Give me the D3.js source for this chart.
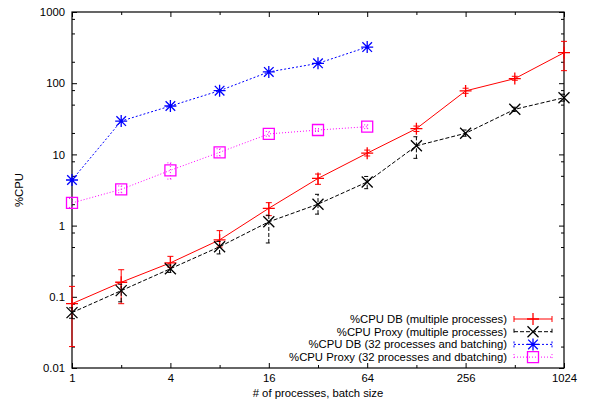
<!DOCTYPE html>
<html>
<head>
<meta charset="utf-8">
<script src="https://cdn.jsdelivr.net/npm/d3@7"></script>
<style>
  body { margin: 0; background: #fff; }
  svg text { font-family: "Liberation Sans", Arial, sans-serif; font-size: 11.3px; fill: #000; }
</style>
</head>
<body>
<div id="chart"></div>
<script>
// x positions (processes / batch size)
var xMulti = [1, 2, 4, 8, 16, 32, 64, 128, 256, 512, 1024];
var xBatch = [1, 2, 4, 8, 16, 32, 64];

// %CPU DB (multiple processes)
var dbMulti   = [0.08, 0.16, 0.30, 0.63, 1.75, 4.6, 10.4, 23, 78, 116, 268];
var dbMultiLo = [0.02, 0.08, 0.26, 0.50, 1.38, 3.8, 9.5, 21, 72, 110, 150];
var dbMultiHi = [0.14, 0.24, 0.37, 0.85, 2.1, 5.3, 11.5, 25, 85, 125, 387];

// %CPU Proxy (multiple processes)
var pxMulti   = [0.06, 0.122, 0.248, 0.505, 1.13, 2.0, 4.1, 13.2, 19.8, 43, 62.5];
var pxMultiLo = [0.05, 0.085, 0.22, 0.40, 0.57, 1.45, 3.3, 8.8, 18, 40, 56];
var pxMultiHi = [0.07, 0.15, 0.28, 0.60, 1.4, 2.75, 4.9, 17.7, 22, 46, 70];

// %CPU DB (32 processes and batching)
var dbBatch   = [4.37, 29.4, 47.8, 78.5, 144, 190, 322];

// %CPU Proxy (32 processes and dbatching)
var pxBatch   = [2.08, 3.23, 5.98, 10.7, 19.4, 22, 24.5];
var pxBatchLo = [1.8, 2.9, 4.5, 9.5, 18, 21, 23];
var pxBatchHi = [2.4, 3.6, 7.6, 12, 21, 23, 26];

var xTicks = [1, 4, 16, 64, 256, 1024];
var xMinor = [2, 8, 32, 128, 512];
var yTicks = [0.01, 0.1, 1, 10, 100, 1000];
var yMinorMult = [2, 5, 8];

var W = 591, H = 405;
var margin = {left: 72, top: 12, right: 27, bottom: 37};

var x = d3.scaleLog().base(2).domain([1, 1024]).range([margin.left, W - margin.right]);
var y = d3.scaleLog().domain([0.01, 1000]).range([H - margin.bottom, margin.top]);

var svg = d3.select("#chart").append("svg").attr("width", W).attr("height", H);

var yMinor = [];
yTicks.slice(0, -1).forEach(function (t) {
    yMinorMult.forEach(function (m) { yMinor.push(t * m); });
});
yMinor = yMinor.filter(function (v) { return v > 0.01 && v < 1000; });

var fmtY = function (d) { return d >= 1 ? d3.format("d")(d) : String(d); };

// axes, ticks pointing inward like gnuplot
var pBottom = y.range()[0], pTop = y.range()[1], pLeft = x.range()[0], pRight = x.range()[1];

svg.append("g").attr("transform", "translate(0," + pBottom + ")")
    .call(d3.axisBottom(x).tickValues(xTicks).tickFormat(d3.format("d")).tickSizeInner(-5).tickSizeOuter(0).tickPadding(6));
svg.append("g").attr("transform", "translate(0," + pBottom + ")")
    .call(d3.axisBottom(x).tickValues(xMinor).tickFormat("").tickSizeInner(-3).tickSizeOuter(0));
svg.append("g").attr("transform", "translate(0," + pTop + ")")
    .call(d3.axisTop(x).tickValues(xTicks).tickFormat("").tickSizeInner(-5).tickSizeOuter(0));
svg.append("g").attr("transform", "translate(0," + pTop + ")")
    .call(d3.axisTop(x).tickValues(xMinor).tickFormat("").tickSizeInner(-3).tickSizeOuter(0));

svg.append("g").attr("transform", "translate(" + pLeft + ",0)")
    .call(d3.axisLeft(y).tickValues(yTicks).tickFormat(fmtY).tickSizeInner(-5).tickSizeOuter(0).tickPadding(7));
svg.append("g").attr("transform", "translate(" + pLeft + ",0)")
    .call(d3.axisLeft(y).tickValues(yMinor).tickFormat("").tickSizeInner(-3).tickSizeOuter(0));
svg.append("g").attr("transform", "translate(" + pRight + ",0)")
    .call(d3.axisRight(y).tickValues(yTicks).tickFormat("").tickSizeInner(-5).tickSizeOuter(0));
svg.append("g").attr("transform", "translate(" + pRight + ",0)")
    .call(d3.axisRight(y).tickValues(yMinor).tickFormat("").tickSizeInner(-3).tickSizeOuter(0));

svg.selectAll(".domain").remove();
svg.selectAll(".tick line").attr("stroke", "#000");
svg.selectAll(".tick text").style("font-size", "11.3px").style("font-family", "'Liberation Sans', Arial, sans-serif");

svg.append("rect")
    .attr("x", pLeft).attr("y", pTop)
    .attr("width", pRight - pLeft).attr("height", pBottom - pTop)
    .attr("fill", "none").attr("stroke", "#000").attr("stroke-width", 1.2);

// axis titles
svg.append("text").attr("x", (pLeft + pRight) / 2).attr("y", H - 8)
    .attr("text-anchor", "middle").text("# of processes, batch size");
svg.append("text").attr("transform", "translate(23," + (pTop + pBottom) / 2 + ") rotate(-90)")
    .attr("text-anchor", "middle").text("%CPU");

// marker shapes
var markers = {
    plus: function (s) { return "M" + (-s) + ",0H" + s + "M0," + (-s) + "V" + s; },
    cross: function (s) { return "M" + (-s) + "," + (-s) + "L" + s + "," + s + "M" + (-s) + "," + s + "L" + s + "," + (-s); },
    star: function (s) {
        var d = s * 0.8;
        return "M" + (-s) + ",0H" + s + "M0," + (-s) + "V" + s +
            "M" + (-d) + "," + (-d) + "L" + d + "," + d + "M" + (-d) + "," + d + "L" + d + "," + (-d);
    },
    square: function (s) { return "M" + (-s) + "," + (-s) + "H" + s + "V" + s + "H" + (-s) + "Z"; }
};

var series = [
    {name: "%CPU DB (multiple processes)", xs: xMulti, v: dbMulti, lo: dbMultiLo, hi: dbMultiHi,
        color: "#ff0000", dash: null, marker: "plus", size: 6},
    {name: "%CPU Proxy (multiple processes)", xs: xMulti, v: pxMulti, lo: pxMultiLo, hi: pxMultiHi,
        color: "#000000", dash: "4,2", marker: "cross", size: 5.5},
    {name: "%CPU DB (32 processes and batching)", xs: xBatch, v: dbBatch, lo: null, hi: null,
        color: "#0000ff", dash: "2,2", marker: "star", size: 6},
    {name: "%CPU Proxy (32 processes and dbatching)", xs: xBatch, v: pxBatch, lo: pxBatchLo, hi: pxBatchHi,
        color: "#ff00ff", dash: "1,2", marker: "square", size: 5.5}
];

var line = d3.line().x(function (d) { return x(d.x); }).y(function (d) { return y(d.v); });

series.forEach(function (s) {
    var pts = s.xs.map(function (xv, i) {
        return {x: xv, v: s.v[i], lo: s.lo ? s.lo[i] : null, hi: s.hi ? s.hi[i] : null};
    });
    var g = svg.append("g");

    g.append("path").datum(pts)
        .attr("d", line)
        .attr("fill", "none")
        .attr("stroke", s.color)
        .attr("stroke-width", 1)
        .attr("stroke-dasharray", s.dash);

    if (s.lo) {
        g.selectAll(".eb").data(pts).enter().append("path")
            .attr("d", function (d) {
                var cx = x(d.x), y0 = y(d.lo), y1 = y(d.hi);
                return "M" + cx + "," + y0 + "V" + y1 +
                    "M" + (cx - 3) + "," + y0 + "H" + (cx + 3) +
                    "M" + (cx - 3) + "," + y1 + "H" + (cx + 3);
            })
            .attr("fill", "none")
            .attr("stroke", s.color)
            .attr("stroke-width", 1)
            .attr("stroke-dasharray", s.dash);
    }

    g.selectAll(".mk").data(pts).enter().append("path")
        .attr("transform", function (d) { return "translate(" + x(d.x) + "," + y(d.v) + ")"; })
        .attr("d", markers[s.marker](s.size))
        .attr("fill", "none")
        .attr("stroke", s.color)
        .attr("stroke-width", 1.3);
});

// legend
var legY0 = 319, legStep = 12.7, legText = 507, legX0 = 514, legX1 = 552;
var leg = svg.append("g").selectAll("g").data(series).enter().append("g")
    .attr("transform", function (d, i) { return "translate(0," + (legY0 + i * legStep) + ")"; });

leg.append("text").attr("x", legText).attr("y", 0).attr("dy", "0.35em")
    .attr("text-anchor", "end").text(function (d) { return d.name; });

leg.append("path")
    .attr("d", "M" + legX0 + ",0H" + legX1 + "M" + legX0 + ",-3V3M" + legX1 + ",-3V3")
    .attr("fill", "none")
    .attr("stroke", function (d) { return d.color; })
    .attr("stroke-dasharray", function (d) { return d.dash; })
    .attr("stroke-width", 1);

leg.append("path")
    .attr("transform", "translate(" + (legX0 + legX1) / 2 + ",0)")
    .attr("d", function (d) { return markers[d.marker](d.size); })
    .attr("fill", "none")
    .attr("stroke", function (d) { return d.color; })
    .attr("stroke-width", 1.3);
</script>
</body>
</html>
